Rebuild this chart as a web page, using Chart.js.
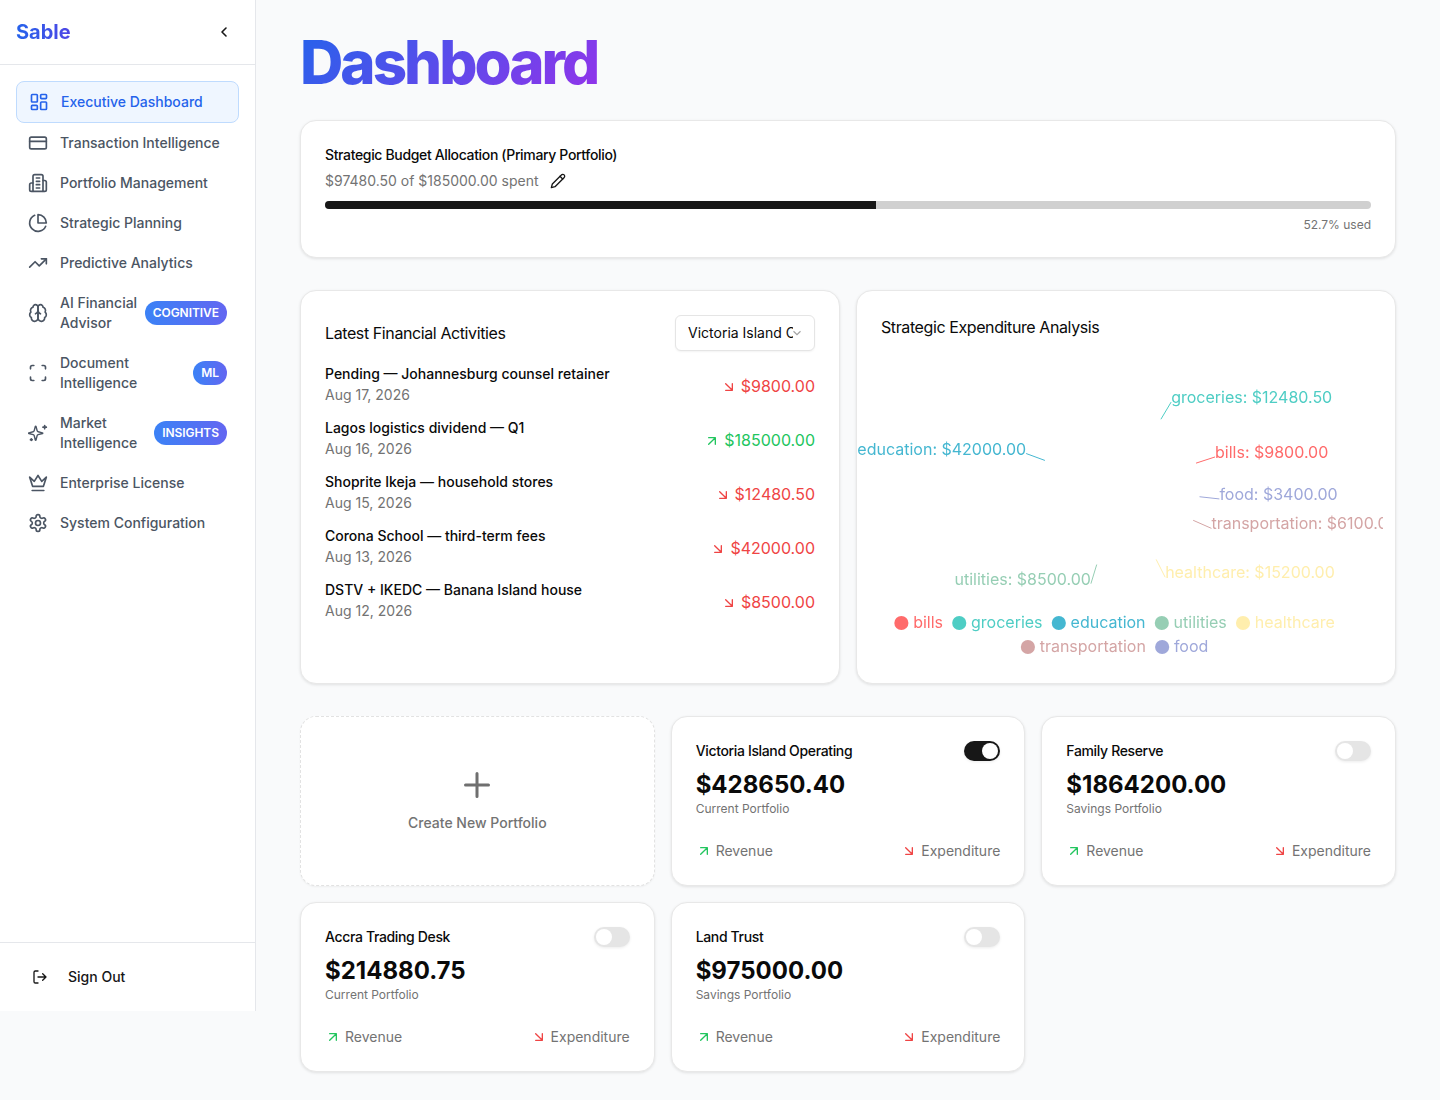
<!DOCTYPE html>
<html><head><meta charset="utf-8">
<script src="https://cdn.jsdelivr.net/npm/chart.js@4"></script>
<style>
*{box-sizing:border-box}
html,body{margin:0;padding:0;background:#f9fafb;font-family:Inter,sans-serif;color:#0a0a0a;width:1440px;height:1100px;overflow:hidden}
.abs{position:absolute}
#side{position:absolute;left:0;top:0;width:256px;height:1011px;background:#fff;border-right:1px solid #e5e7eb}
#brand{position:absolute;left:16px;top:19px;font-size:20px;line-height:26px;font-weight:700;background:linear-gradient(90deg,#2563eb,#4f46e5);-webkit-background-clip:text;background-clip:text;color:transparent}
#hr1{position:absolute;left:0;top:64px;width:255px;height:1px;background:#e5e7eb}
#hr2{position:absolute;left:0;top:942px;width:255px;height:1px;background:#e5e7eb}
.mi{position:absolute;left:28px;width:205px;display:flex;align-items:center;color:#4b5563;font-size:14px;line-height:20px;font-weight:500}
.mi svg{width:20px;height:20px;flex:none;margin-right:12px;stroke:currentColor;fill:none;stroke-width:2;stroke-linecap:round;stroke-linejoin:round}
.mi .t{flex:1}
#active{position:absolute;left:16px;top:81px;width:223px;height:42px;border-radius:8px;background:#eff6ff;border:1px solid #bfdbfe}
.badge{position:absolute;right:6px;height:24px;line-height:24px;padding:0 8px;border-radius:12px;background:linear-gradient(90deg,#3b82f6,#6366f1);color:#fff;font-size:12px;font-weight:600;letter-spacing:-.05px}
h1{position:absolute;left:300px;top:27px;margin:0;font-size:60px;line-height:70px;font-weight:800;letter-spacing:-3px;background:linear-gradient(135deg,#2563eb,#9333ea);-webkit-background-clip:text;background-clip:text;color:transparent}
.card{position:absolute;background:#fff;border:1px solid #e8e8e8;border-radius:16px;box-shadow:0 1px 3px rgba(0,0,0,.1)}
.txt{position:absolute;white-space:nowrap}
.tight{letter-spacing:-.35px;font-weight:500}
.head{letter-spacing:-.4px;font-weight:400}
.dash{border:1px dashed #e2e2e2;box-shadow:0 1px 2px rgba(0,0,0,.05)}
.toggle{position:absolute;width:36px;height:20px;border-radius:10px;background:#e5e5e5;box-shadow:0 1px 3px rgba(0,0,0,.08)}
.toggle i{position:absolute;top:2px;left:2px;width:16px;height:16px;border-radius:50%;background:#fff}
.toggle.on{background:#171717}.toggle.on i{left:18px}
.arrow{position:absolute;width:12px;height:12px;fill:none;stroke-width:2;stroke-linecap:round;stroke-linejoin:round}
#chartBox{position:absolute;left:857px;top:349px;width:526px;height:316px}
</style></head><body>
<div id="side">
 <div id="brand">Sable</div>
 <svg class="abs" style="left:216px;top:24px;width:16px;height:16px" viewBox="0 0 24 24" fill="none" stroke="#171717" stroke-width="2.4" stroke-linecap="round" stroke-linejoin="round"><path d="M15 18l-6-6 6-6"/></svg>
 <div id="hr1"></div>
 <div id="active"></div>
 <div class="mi" style="top:92px;left:29px;color:#2563eb"><svg viewBox="0 0 24 24"><rect x="3" y="3" width="7" height="9" rx="1"/><rect x="14" y="3" width="7" height="5" rx="1"/><rect x="14" y="12" width="7" height="9" rx="1"/><rect x="3" y="16" width="7" height="5" rx="1"/></svg><span class="t">Executive Dashboard</span></div>
 <div class="mi" style="top:133px"><svg viewBox="0 0 24 24"><rect x="2" y="5" width="20" height="14" rx="2"/><path d="M2 10h20"/></svg><span class="t">Transaction Intelligence</span></div>
 <div class="mi" style="top:173px"><svg viewBox="0 0 24 24"><path d="M6 22V4a2 2 0 0 1 2-2h8a2 2 0 0 1 2 2v18z"/><path d="M6 12H4a2 2 0 0 0-2 2v6a2 2 0 0 0 2 2h2"/><path d="M18 9h2a2 2 0 0 1 2 2v9a2 2 0 0 1-2 2h-2"/><path d="M10 6h4M10 10h4M10 14h4M10 18h4"/></svg><span class="t">Portfolio Management</span></div>
 <div class="mi" style="top:213px"><svg viewBox="0 0 24 24"><path d="M21.21 15.89A10 10 0 1 1 8 2.83"/><path d="M22 12A10 10 0 0 0 12 2v10z"/></svg><span class="t">Strategic Planning</span></div>
 <div class="mi" style="top:253px"><svg viewBox="0 0 24 24"><path d="M22 7l-8.5 8.5-5-5L2 17"/><path d="M16 7h6v6"/></svg><span class="t">Predictive Analytics</span></div>
 <div class="mi" style="top:293px"><svg viewBox="0 0 24 24"><path d="M12 5a3 3 0 1 0-5.997.125 4 4 0 0 0-2.526 5.77 4 4 0 0 0 .556 6.588A4 4 0 1 0 12 18z"/><path d="M12 5a3 3 0 1 1 5.997.125 4 4 0 0 1 2.526 5.77 4 4 0 0 1-.556 6.588A4 4 0 1 1 12 18z"/><path d="M15 13a4.5 4.5 0 0 1-3-4 4.5 4.5 0 0 1-3 4"/></svg><span class="t">AI Financial<br>Advisor</span><span class="badge" style="top:8px">COGNITIVE</span></div>
 <div class="mi" style="top:353px"><svg viewBox="0 0 24 24"><path d="M3 7V5a2 2 0 0 1 2-2h2"/><path d="M17 3h2a2 2 0 0 1 2 2v2"/><path d="M21 17v2a2 2 0 0 1-2 2h-2"/><path d="M7 21H5a2 2 0 0 1-2-2v-2"/></svg><span class="t">Document<br>Intelligence</span><span class="badge" style="top:8px">ML</span></div>
 <div class="mi" style="top:413px"><svg viewBox="0 0 24 24"><path d="M9.94 15.5A2 2 0 0 0 8.5 14.06l-6.14-1.58a.5.5 0 0 1 0-.96L8.5 9.94A2 2 0 0 0 9.94 8.5l1.58-6.14a.5.5 0 0 1 .96 0L14.06 8.5A2 2 0 0 0 15.5 9.94l6.14 1.58a.5.5 0 0 1 0 .96L15.5 14.06a2 2 0 0 0-1.44 1.44l-1.58 6.14a.5.5 0 0 1-.96 0z" transform="translate(-1 2) scale(.85)"/><path d="M20 3v4M22 5h-4M4 19v2M5 20H3"/></svg><span class="t">Market<br>Intelligence</span><span class="badge" style="top:8px">INSIGHTS</span></div>
 <div class="mi" style="top:473px"><svg viewBox="0 0 24 24"><path d="M2 5l3.5 11h13L22 5l-5.5 5L12 3l-4.5 7z"/><path d="M5 21h14"/></svg><span class="t">Enterprise License</span></div>
 <div class="mi" style="top:513px"><svg viewBox="0 0 24 24"><path d="M12.22 2h-.44a2 2 0 0 0-2 2v.18a2 2 0 0 1-1 1.73l-.43.25a2 2 0 0 1-2 0l-.15-.08a2 2 0 0 0-2.73.73l-.22.38a2 2 0 0 0 .73 2.73l.15.1a2 2 0 0 1 1 1.72v.51a2 2 0 0 1-1 1.74l-.15.09a2 2 0 0 0-.73 2.73l.22.38a2 2 0 0 0 2.73.73l.15-.08a2 2 0 0 1 2 0l.43.25a2 2 0 0 1 1 1.73V20a2 2 0 0 0 2 2h.44a2 2 0 0 0 2-2v-.18a2 2 0 0 1 1-1.73l.43-.25a2 2 0 0 1 2 0l.15.08a2 2 0 0 0 2.73-.73l.22-.39a2 2 0 0 0-.73-2.73l-.15-.08a2 2 0 0 1-1-1.74v-.5a2 2 0 0 1 1-1.74l.15-.09a2 2 0 0 0 .73-2.73l-.22-.38a2 2 0 0 0-2.73-.73l-.15.08a2 2 0 0 1-2 0l-.43-.25a2 2 0 0 1-1-1.73V4a2 2 0 0 0-2-2z"/><circle cx="12" cy="12" r="3"/></svg><span class="t">System Configuration</span></div>
 <div id="hr2"></div>
 <div class="mi" style="top:967px;left:32px;color:#171717"><svg viewBox="0 0 24 24" style="width:16px;height:16px;margin-right:20px"><path d="M9 21H5a2 2 0 0 1-2-2V5a2 2 0 0 1 2-2h4"/><path d="M16 17l5-5-5-5M21 12H9"/></svg><span class="t">Sign Out</span></div>
</div>

<h1>Dashboard</h1>

<div class="card" style="left:300px;top:120px;width:1096px;height:138px"></div>
<div class="txt tight" style="left:325px;top:145px;font-size:14px;line-height:20px">Strategic Budget Allocation (Primary Portfolio)</div>
<div class="txt" style="left:325px;top:171px;font-size:14px;line-height:20px;color:#737373">$97480.50 of $185000.00 spent</div>
<svg class="abs" style="left:550px;top:173px;width:16px;height:16px" viewBox="0 0 24 24" fill="none" stroke="#171717" stroke-width="2" stroke-linecap="round" stroke-linejoin="round"><path d="M17 3a2.85 2.83 0 1 1 4 4L7.5 20.5 2 22l1.5-5.5z"/><path d="M15 5l4 4"/></svg>
<div class="abs" style="left:325px;top:201px;width:1046px;height:8px;background:#d0d0d0;border-radius:4px;overflow:hidden"><div style="width:52.7%;height:8px;background:#171717"></div></div>
<div class="txt" style="right:69px;top:217px;font-size:12px;line-height:16px;color:#737373">52.7% used</div>

<div class="card" style="left:300px;top:290px;width:540px;height:394px"></div>
<div class="txt head" style="left:325px;top:323px;font-size:16px;line-height:20px">Latest Financial Activities</div>
<div class="abs" style="left:675px;top:315px;width:140px;height:36px;background:#fff;border:1px solid #e5e5e5;border-radius:6px;box-shadow:0 1px 2px rgba(0,0,0,.05)"></div>
<div class="txt" style="left:688px;top:323px;width:105px;overflow:hidden;font-size:14px;line-height:20px;color:#0a0a0a">Victoria Island Operating</div>
<svg class="abs" style="left:790px;top:326px;width:14px;height:14px" viewBox="0 0 24 24" fill="none" stroke="#a3a3a3" stroke-width="2"><path d="M6 9l6 6 6-6"/></svg>
<div id="acts"></div>

<div class="card" style="left:856px;top:290px;width:540px;height:394px"></div>
<div class="txt head" style="left:881px;top:317px;font-size:16px;line-height:20px">Strategic Expenditure Analysis</div>
<div id="chartBox"><canvas id="c"></canvas></div>

<div class="card dash" style="left:300px;top:716px;width:354.67px;height:170px"></div>
<svg class="abs" style="left:461px;top:769px;width:32px;height:32px" viewBox="0 0 32 32" fill="none" stroke="#6f6f6f" stroke-width="3" stroke-linecap="round"><path d="M16 4.5v23M4.5 16h23"/></svg>
<div class="txt" style="left:300px;width:354.67px;text-align:center;top:813px;font-size:14px;line-height:20px;font-weight:500;color:#737373">Create New Portfolio</div>
<div id="ports"></div>

<script>
const categories = ['bills','groceries','education','utilities','healthcare','transportation','food'];
const amounts = [9800.00,12480.50,42000.00,8500.00,15200.00,6100.00,3400.00];
const sliceColors = ['#FF6B6B','#4ECDC4','#45B7D1','#96CEB4','#FFEEAD','#D4A5A5','#9FA8DA'];

const activityTitles = ['Pending — Johannesburg counsel retainer','Lagos logistics dividend — Q1','Shoprite Ikeja — household stores','Corona School — third-term fees','DSTV + IKEDC — Banana Island house'];
const activityDates = ['Aug 17, 2026','Aug 16, 2026','Aug 15, 2026','Aug 13, 2026','Aug 12, 2026'];
const activityAmounts = ['$9800.00','$185000.00','$12480.50','$42000.00','$8500.00'];
const activityIncome = [false,true,false,false,false];

const portfolioNames = ['Victoria Island Operating','Family Reserve','Accra Trading Desk','Land Trust'];
const portfolioValues = ['$428650.40','$1864200.00','$214880.75','$975000.00'];
const portfolioKinds = ['Current Portfolio','Savings Portfolio','Current Portfolio','Savings Portfolio'];
const portfolioActive = [true,false,false,false];

const UP='<path d="M7 17L17 7M7 7h10v10"/>', DOWN='<path d="M7 7l10 10M17 7v10H7"/>';
let h='';
activityTitles.forEach((t,i)=>{
  const y=364+54*i, col=activityIncome[i]?'#22c55e':'#ef4444';
  h+=`<div class="txt" style="left:325px;top:${y}px;font-size:14px;line-height:20px;font-weight:500">${t}</div>
  <div class="txt" style="left:325px;top:${y+21}px;font-size:14px;line-height:20px;color:#737373">${activityDates[i]}</div>
  <div class="txt" style="right:625px;top:${y+11}px;font-size:16px;line-height:22px;color:${col}"><svg style="width:12px;height:12px;margin-right:6px;vertical-align:-1px;fill:none;stroke:${col};stroke-width:2;stroke-linecap:round;stroke-linejoin:round" viewBox="3 3 18 18">${activityIncome[i]?UP:DOWN}</svg>${activityAmounts[i]}</div>`;
});
document.getElementById('acts').innerHTML=h;

const cardX=[670.67,1041.33,300,670.67], cardY=[716,716,902,902], cardW=354.67;
h='';
portfolioNames.forEach((n,i)=>{
  const x=cardX[i],y=cardY[i],w=cardW;
  h+=`<div class="card" style="left:${x}px;top:${y}px;width:${w}px;height:170px"></div>
  <div class="txt tight" style="left:${x+25}px;top:${y+25}px;font-size:14px;line-height:20px">${n}</div>
  <div class="toggle${portfolioActive[i]?' on':''}" style="left:${x+w-61}px;top:${y+25}px"><i></i></div>
  <div class="txt" style="left:${x+25}px;top:${y+53}px;font-size:24px;line-height:32px;font-weight:700">${portfolioValues[i]}</div>
  <div class="txt" style="left:${x+25}px;top:${y+85}px;font-size:12px;line-height:16px;color:#737373">${portfolioKinds[i]}</div>
  <svg class="arrow" style="left:${x+27}px;top:${y+129}px;stroke:#22c55e" viewBox="3 3 18 18">${UP}</svg>
  <div class="txt" style="left:${x+45}px;top:${y+125}px;font-size:14px;line-height:20px;color:#737373">Revenue</div>
  <svg class="arrow" style="left:${x+w-122}px;top:${y+129}px;stroke:#ef4444" viewBox="3 3 18 18">${DOWN}</svg>
  <div class="txt" style="right:${1440-(x+w-25)}px;top:${y+125}px;font-size:14px;line-height:20px;color:#737373">Expenditure</div>`;
});
document.getElementById('ports').innerHTML=h;

/* The reference runs counter-clockwise from 3 o'clock; Chart.js runs clockwise, so slices go in reversed and the legend reverses them back. */
const rev = a => a.slice().reverse();
const leaderLabels = {
  id:'leaderLabels',
  afterLayout(chart){ chart.legend.left-=1.5; chart.legend.right-=1.5; },
  afterDatasetsDraw(chart){
    const {ctx}=chart, arcs=chart.getDatasetMeta(0).data, cols=rev(sliceColors), names=rev(categories), vals=rev(amounts);
    ctx.save();
    ctx.font='16px Inter';
    ctx.textBaseline='alphabetic';
    arcs.forEach((arc,i)=>{
      const {x,y,startAngle,endAngle,outerRadius}=arc.getProps(['x','y','startAngle','endAngle','outerRadius'],true);
      const m=(startAngle+endAngle)/2, c=Math.cos(m), s=Math.sin(m);
      const ex=x+(outerRadius+20)*c, ey=y+(outerRadius+20)*s;
      ctx.strokeStyle=cols[i]; ctx.lineWidth=1;
      ctx.beginPath(); ctx.moveTo(x+outerRadius*c,y+outerRadius*s); ctx.lineTo(ex,ey); ctx.stroke();
      ctx.fillStyle=cols[i];
      ctx.textAlign=c>=0?'left':'right';
      ctx.fillText(names[i]+': $'+vals[i].toFixed(2),ex,ey+1);
    });
    ctx.restore();
  }
};
new Chart(document.getElementById('c'),{
  type:'pie',
  data:{labels:rev(categories),datasets:[{data:rev(amounts),backgroundColor:'rgba(0,0,0,0)',borderWidth:0,radius:80}]},
  plugins:[leaderLabels],
  options:{
    responsive:true,maintainAspectRatio:false,animation:false,rotation:90,
    layout:{padding:{top:20}},
    plugins:{
      tooltip:{enabled:false},
      legend:{display:true,position:'bottom',reverse:true,
        labels:{font:{family:'Inter',size:16},padding:8,boxWidth:7.5,boxHeight:10,usePointStyle:true,pointStyle:'circle',
          generateLabels(chart){
            return rev(categories).map((n,i)=>{const col=rev(sliceColors)[i];return {text:n+' ',fillStyle:col,strokeStyle:col,lineWidth:0,fontColor:col,pointStyle:'circle',index:i};});
          }}}
    }
  }
});
</script>
</body></html>
